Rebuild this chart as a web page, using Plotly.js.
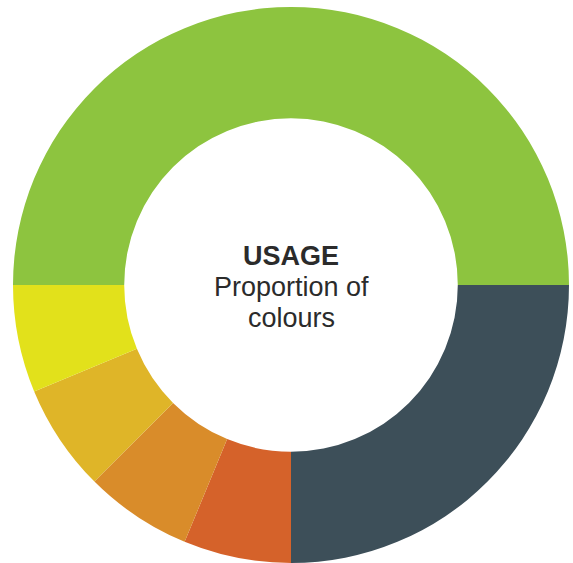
<!DOCTYPE html>
<html>
<head>
<meta charset="utf-8">
<script src="https://cdn.plot.ly/plotly-3.0.1.min.js"></script>
<style>html,body{margin:0;padding:0;background:#fff;}#chart{width:573px;height:563px;}</style>
</head>
<body>
<div id="chart"></div>
<script>
const categories = ["Green", "Slate", "Vermilion", "Orange", "Gold", "Yellow"];
const values = [50, 25, 6.25, 6.25, 6.25, 6.25];
const colors = ["#8DC43F", "#3D4F59", "#D5622A", "#D98C2A", "#DFB528", "#E2E11B"];
const centerLines = ["<b>USAGE</b>", "Proportion of", "colours"];

const H = 563, T = 7, PH = 556;
const lineCenters = [256, 287, 318];

Plotly.newPlot("chart", [{
  type: "pie",
  labels: categories,
  values: values,
  hole: 0.6,
  sort: false,
  direction: "clockwise",
  rotation: -90,
  textinfo: "none",
  hoverinfo: "label+percent",
  marker: {colors: colors, line: {width: 0}},
  showlegend: false
}], {
  width: 573,
  height: H,
  margin: {l: 12, r: 3, t: T, b: 0},
  paper_bgcolor: "#fff",
  annotations: centerLines.map((t, i) => ({
    text: t,
    x: 0.5, y: 1 - (lineCenters[i] - T) / PH, xref: "paper", yref: "paper",
    xanchor: "center", yanchor: "middle",
    showarrow: false,
    font: {family: "Liberation Sans, Arial, sans-serif", size: 27, color: "#2b2b2b"}
  }))
}, {displayModeBar: false, staticPlot: true});
</script>
</body>
</html>
